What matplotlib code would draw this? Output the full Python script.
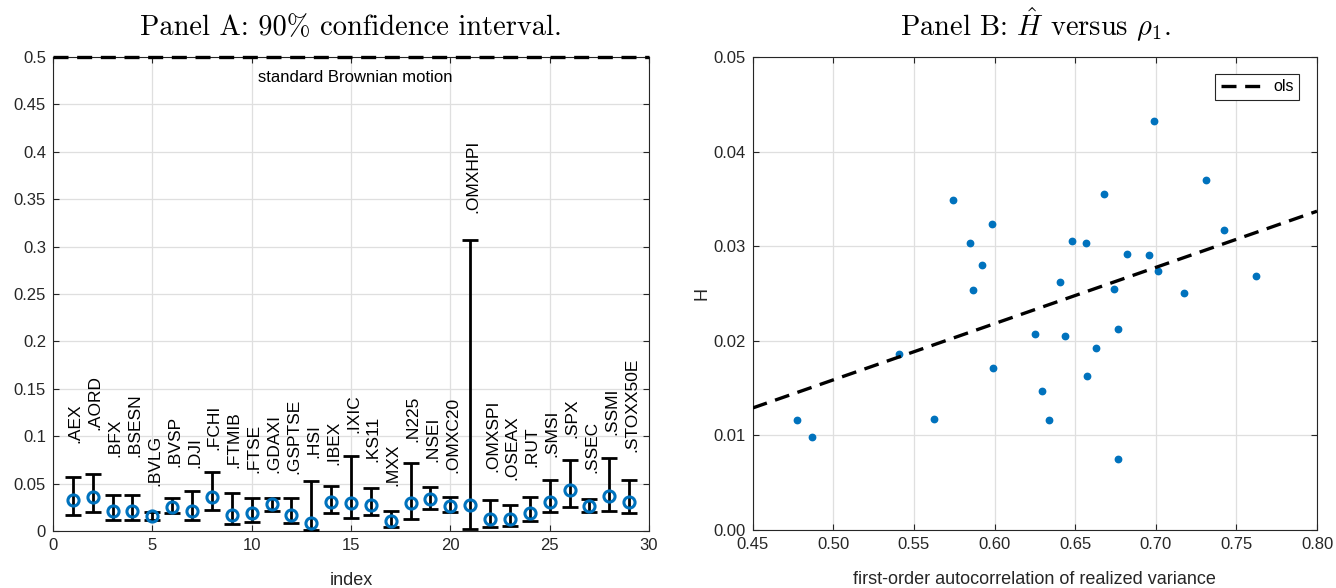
import numpy as np
import matplotlib
matplotlib.use("Agg")
import matplotlib.pyplot as plt
from matplotlib import font_manager

def pick(fams):
    for f in fams:
        try:
            font_manager.findfont(f, fallback_to_default=False)
            return f
        except Exception:
            pass
    return "DejaVu Sans"

SANS = pick(["Liberation Sans", "Arial", "DejaVu Sans"])
NARROW = pick(["Liberation Sans Narrow", "Liberation Sans", "DejaVu Sans"])
plt.rcParams['font.family'] = [SANS, 'DejaVu Sans']
plt.rcParams['mathtext.fontset'] = 'cm'

# ---------------- data ----------------
index = np.arange(1, 30)
names = ['.AEX', '.AORD', '.BFX', '.BSESN', '.BVLG', '.BVSP', '.DJI', '.FCHI',
         '.FTMIB', '.FTSE', '.GDAXI', '.GSPTSE', '.HSI', '.IBEX', '.IXIC',
         '.KS11', '.MXX', '.N225', '.NSEI', '.OMXC20', '.OMXHPI', '.OMXSPI',
         '.OSEAX', '.RUT', '.SMSI', '.SPX', '.SSEC', '.SSMI', '.STOXX50E']
H_hat = [0.0327, 0.0355, 0.0211, 0.0211, 0.0155, 0.0257, 0.0215, 0.0362,
         0.0169, 0.0186, 0.0281, 0.0169, 0.0081, 0.0302, 0.0292,
         0.0274, 0.0109, 0.0292, 0.0338, 0.0267, 0.0274, 0.0123,
         0.0123, 0.0193, 0.0310, 0.0432, 0.0264, 0.0369, 0.0310]
ci_lower = [0.0169, 0.0204, 0.0116, 0.0116, 0.0116, 0.0186, 0.0116, 0.0220,
            0.0074, 0.0098, 0.0211, 0.0088, 0.0010, 0.0193, 0.0134,
            0.0169, 0.0046, 0.0123, 0.0229, 0.0200, 0.0020, 0.0046,
            0.0053, 0.0105, 0.0204, 0.0250, 0.0204, 0.0211, 0.0193]
ci_upper = [0.0573, 0.0598, 0.0380, 0.0380, 0.0204, 0.0345, 0.0420, 0.0626,
            0.0397, 0.0345, 0.0345, 0.0345, 0.0527, 0.0475, 0.0790,
            0.0457, 0.0211, 0.0714, 0.0460, 0.0355, 0.3070, 0.0327,
            0.0274, 0.0362, 0.0538, 0.0749, 0.0334, 0.0767, 0.0538]
label_y = [0.0925, 0.1065, 0.0784, 0.0784, 0.0475, 0.0672, 0.0661, 0.0854,
           0.0661, 0.0609, 0.0609, 0.0598, 0.0767, 0.0696, 0.1031,
           0.0731, 0.0475, 0.0942, 0.0731, 0.0609, 0.3354, 0.0626,
           0.0538, 0.0672, 0.0784, 0.0978, 0.0615, 0.1013, 0.0837]
brownian_H = 0.5

rho1 = [0.4777, 0.4866, 0.5409, 0.5622, 0.5744, 0.5847, 0.5864, 0.5920,
        0.5982, 0.5988, 0.6250, 0.6292, 0.6339, 0.6405, 0.6434, 0.6478,
        0.6566, 0.6571, 0.6630, 0.6678, 0.6740, 0.6765, 0.6766, 0.6822,
        0.6957, 0.6988, 0.7013, 0.7176, 0.7310, 0.7424, 0.7620]
H_b = [0.01168, 0.0098, 0.01858, 0.01175, 0.03485, 0.03036, 0.02534, 0.02806,
       0.03235, 0.01713, 0.02077, 0.01472, 0.01168, 0.02625, 0.02056, 0.0306,
       0.03036, 0.01628, 0.01925, 0.03556, 0.02548, 0.02127, 0.00754, 0.02919,
       0.02909, 0.04324, 0.02735, 0.02502, 0.03705, 0.03167, 0.02689]
ols_x = [0.45, 0.80]
ols_y = [0.0129, 0.0337]

# ---------------- figure ----------------
BLUE = '#0072BD'
AXC = '#262626'
GRID = '#dfdfdf'
TFS = 12

fig = plt.figure(figsize=(13.36, 5.88), dpi=100)
axA = fig.add_axes([53/1336, 57/588, 596/1336, 474/588])
axB = fig.add_axes([752.7/1336, 58/588, 564.3/1336, 473/588])

def style(ax):
    for s in ax.spines.values():
        s.set_color(AXC)
        s.set_linewidth(0.8)
    ax.tick_params(direction='in', top=True, right=True, length=4, width=0.8,
                   color=AXC, labelsize=TFS, labelcolor=AXC, pad=5)
    ax.grid(True, color=GRID, linewidth=0.9)
    ax.set_axisbelow(True)

# Panel A
style(axA)
H_arr = np.array(H_hat)
yerr = [H_arr - np.array(ci_lower), np.array(ci_upper) - H_arr]
axA.errorbar(index, H_hat, yerr=yerr, fmt='none', ecolor='black',
             elinewidth=2.0, capsize=6, capthick=2.0, zorder=3)
axA.plot(index, H_hat, 'o', mfc='none', mec=BLUE, mew=2.2, ms=8, zorder=4)
axA.axhline(brownian_H, color='black', lw=2.4, dashes=(4.5, 2.6), zorder=5,
            clip_on=False)
axA.text(15.2, 0.478, 'standard Brownian motion', ha='center', va='center',
         fontsize=12, color='black')
for xi, yi, nm in zip(index, label_y, names):
    axA.text(xi + 0.12, yi, nm, rotation=90, ha='center', va='bottom',
             fontsize=12.5, family=[NARROW, 'DejaVu Sans'], color='black')
axA.set_xlim(0, 30)
axA.set_ylim(0, 0.5)
axA.set_xticks(np.arange(0, 31, 5))
yt = np.round(np.arange(0, 0.501, 0.05), 2)
axA.set_yticks(yt)
axA.set_yticklabels(['%g' % v for v in yt])
axA.set_xlabel('index', fontsize=13, color=AXC, labelpad=14)
axA.set_title('Panel A: 90% confidence interval.', fontsize=20.5,
              family=['cmr10', 'DejaVu Serif'], pad=16)

# Panel B
style(axB)
axB.plot(rho1, H_b, 'o', color=BLUE, ms=4.6, zorder=3)
axB.plot(ols_x, ols_y, color='black', lw=2.4, dashes=(4.5, 2.6), label='ols',
         zorder=4)
axB.set_xlim(0.45, 0.80)
axB.set_ylim(0, 0.05)
xt = np.round(np.arange(0.45, 0.801, 0.05), 2)
axB.set_xticks(xt)
axB.set_xticklabels(['%.2f' % v for v in xt])
ytb = np.round(np.arange(0, 0.0501, 0.01), 2)
axB.set_yticks(ytb)
axB.set_yticklabels(['%.2f' % v for v in ytb])
axB.set_xlabel('first-order autocorrelation of realized variance',
               fontsize=13, color=AXC, labelpad=14)
axB.set_ylabel('H', fontsize=13, color=AXC, labelpad=2)
axB.set_title(r'Panel B: $\hat{H}$ versus $\rho_1$.', fontsize=20.5,
              family=['cmr10', 'DejaVu Serif'], pad=16)
leg = axB.legend(loc='upper right', fontsize=11.5, handlelength=2.8,
                 fancybox=False, framealpha=1, borderpad=0.35,
                 handletextpad=0.5, bbox_to_anchor=(0.983, 0.982))
leg.get_frame().set_edgecolor(AXC)
leg.get_frame().set_linewidth(0.8)

fig.savefig('out.png', dpi=100)
